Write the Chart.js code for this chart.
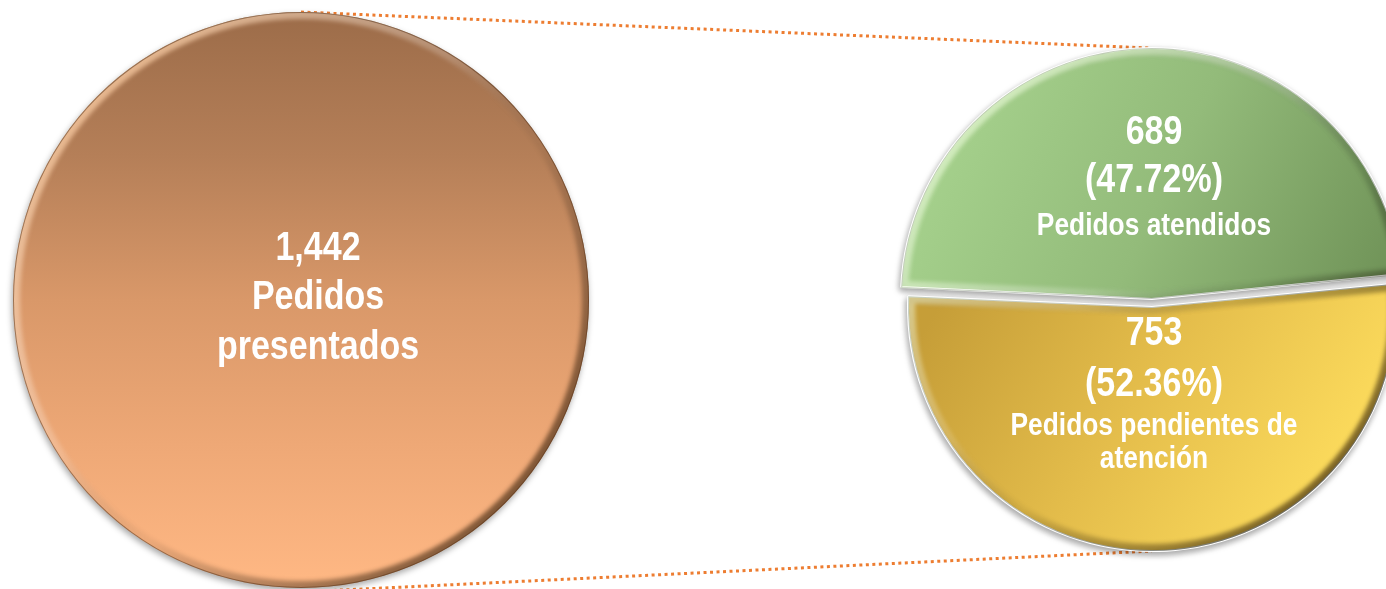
<!DOCTYPE html>
<html><head><meta charset="utf-8">
<script src="https://cdn.jsdelivr.net/npm/chart.js@4.4.1/dist/chart.umd.min.js"></script>
<style>
html,body{margin:0;padding:0;background:#fff;width:1386px;height:589px;overflow:hidden;position:relative}
#c1{position:absolute;left:0;top:0}
#c2{position:absolute;left:882px;top:37px}
</style></head><body>
<canvas id="c1" width="1386" height="589"></canvas>
<canvas id="c2" width="540" height="540"></canvas>
<script>
// ---- data ----
const totalCategory = [['Pedidos', 'presentados']];
const totalValue = [1442];
const splitCategories = [['Pedidos atendidos'], ['Pedidos pendientes de', 'atención']];
const splitValues = [689, 753];
const splitPercentLabels = ['47.72%', '52.36%'];

const FONT = '"Liberation Sans Narrow", "Liberation Sans", Arial, sans-serif';
const NARROW = 0.85;
const fmt = v => v.toLocaleString('en-US');

function arcGeom(el) {
  const p = el.getProps(['x', 'y', 'startAngle', 'endAngle', 'outerRadius'], true);
  const o = (el.options.offset || 0) / 4;
  const half = (p.startAngle + p.endAngle) / 2;
  const circ = p.endAngle - p.startAngle;
  const fix = 1 - Math.sin(Math.min(Math.PI, circ));
  return {cx: p.x, cy: p.y, x: p.x + Math.cos(half) * o, y: p.y + Math.sin(half) * o,
          r: p.outerRadius + o * fix, s: p.startAngle, e: p.endAngle,
          full: circ >= 2 * Math.PI - 1e-6, R0: p.outerRadius};
}
function tracePath(ctx, g) {
  ctx.beginPath();
  if (g.full) { ctx.arc(g.x, g.y, g.r, 0, Math.PI * 2); }
  else { ctx.moveTo(g.x, g.y); ctx.arc(g.x, g.y, g.r, g.s, g.e); ctx.closePath(); }
}

const bevelPlugin = {
  id: 'bevel',
  beforeDatasetsDraw(chart) {
    const ctx = chart.ctx;
    ctx.save();
    ctx.shadowColor = 'rgba(0,0,0,0.35)';
    ctx.shadowBlur = 6;
    ctx.shadowOffsetX = -1;
    ctx.shadowOffsetY = 3;
  },
  afterDatasetsDraw(chart, args, opts) {
    const ctx = chart.ctx;
    ctx.restore();
    chart.getDatasetMeta(0).data.forEach(el => {
      const g = arcGeom(el);
      const R = g.R0;
      ctx.save();
      tracePath(ctx, g);
      ctx.clip();
      const grad = ctx.createLinearGradient(g.cx - R * 0.75, g.cy - R * 0.75, g.cx + R * 0.75, g.cy + R * 0.75);
      grad.addColorStop(0, opts.light);
      grad.addColorStop(0.4, 'rgba(255,255,255,0.18)');
      grad.addColorStop(0.6, 'rgba(0,0,0,0.05)');
      grad.addColorStop(1, 'rgba(40,20,0,0.6)');
      ctx.filter = 'blur(2px)';
      ctx.lineWidth = 14;
      ctx.strokeStyle = grad;
      tracePath(ctx, g);
      ctx.stroke();
      ctx.filter = 'none';
      ctx.lineWidth = 2;
      ctx.strokeStyle = opts.edge;
      tracePath(ctx, g);
      ctx.stroke();
      ctx.restore();
    });
  }
};

const labelPlugin = {
  id: 'blockLabels',
  afterDraw(chart, args, opts) {
    const ctx = chart.ctx;
    const el = chart.getDatasetMeta(0).data[0];
    const cx = el.x, cy = el.y;
    ctx.save();
    ctx.fillStyle = '#ffffff';
    ctx.textAlign = 'center';
    ctx.textBaseline = 'middle';
    opts.blocks.forEach(b => {
      b.lines.forEach((t, j) => {
        ctx.save();
        ctx.font = 'bold ' + b.sizes[j] + 'px ' + FONT;
        ctx.translate(cx + b.dx, cy + b.dy[j]);
        ctx.scale(NARROW, 1);
        ctx.fillText(t, 0, 0);
        ctx.restore();
      });
    });
    ctx.restore();
  }
};

// ---- right pie ----
const C2X = 882, C2Y = 37;
function g2(chart, x0, y0, x1, y1, stops) {
  const gr = chart.ctx.createLinearGradient(x0 - C2X, y0 - C2Y, x1 - C2X, y1 - C2Y);
  stops.forEach(s => gr.addColorStop(s[0], s[1]));
  return gr;
}
const rightChart = new Chart(document.getElementById('c2'), {
  type: 'pie',
  data: {
    labels: splitCategories.map(c => c.join(' ')),
    datasets: [{
      data: splitValues,
      radius: 244,
      offset: [32, 0],
      borderWidth: 2,
      borderColor: '#ffffff',
      backgroundColor: (c) => {
        const ch = c.chart;
        if (c.dataIndex === 0) return g2(ch, 940, 90, 1390, 300, [[0, '#a7d38e'], [0.5, '#93bb7a'], [1, '#6f9257']]);
        return g2(ch, 930, 320, 1300, 545, [[0, '#c69e38'], [0.5, '#e4bd4b'], [1, '#fcdb5c']]);
      }
    }]
  },
  options: {
    responsive: false, animation: false, events: [],
    rotation: 272.5,
    layout: {padding: 0},
    plugins: {
      legend: {display: false}, tooltip: {enabled: false},
      bevel: {light: 'rgba(235,255,215,0.7)', edge: 'rgba(40,60,30,0.25)'},
      blockLabels: {
        blocks: [
          {dx: 2, dy: [-174.5, -126, -81], sizes: [40, 40, 31],
           lines: [fmt(splitValues[0]), '(' + splitPercentLabels[0] + ')', ...splitCategories[0]]},
          {dx: 2, dy: [26.5, 77.5, 119.5, 152], sizes: [40, 40, 31, 31],
           lines: [fmt(splitValues[1]), '(' + splitPercentLabels[1] + ')', ...splitCategories[1]]}
        ]
      }
    }
  },
  plugins: [bevelPlugin, labelPlugin]
});

// ---- left big circle + connector lines ----
const connectorPlugin = {
  id: 'connectors',
  beforeDatasetsDraw(chart) {
    const ctx = chart.ctx;
    const big = arcGeom(chart.getDatasetMeta(0).data[0]);
    const rm = rightChart.getDatasetMeta(0).data;
    const gTop = arcGeom(rm[0]);
    const gBot = arcGeom(rm[1]);
    const topY = gTop.y - gTop.r + C2Y, topX = gTop.x + C2X;
    const botY = gBot.y + gBot.r + C2Y, botX = gBot.x + C2X;
    ctx.save();
    ctx.strokeStyle = '#ed7d31';
    ctx.lineWidth = 3;
    ctx.setLineDash([3, 3.5]);
    ctx.beginPath();
    ctx.moveTo(big.x, big.y - big.r);
    ctx.lineTo(topX, topY);
    ctx.moveTo(big.x, big.y + big.r + 4);
    ctx.lineTo(botX, botY);
    ctx.stroke();
    ctx.restore();
  }
};

new Chart(document.getElementById('c1'), {
  type: 'pie',
  data: {
    labels: totalCategory.map(c => c.join(' ')),
    datasets: [{
      data: totalValue,
      radius: 288,
      borderWidth: 0,
      backgroundColor: (c) => {
        const gr = c.chart.ctx.createLinearGradient(0, 12, 0, 588);
        gr.addColorStop(0, '#9c6c49');
        gr.addColorStop(0.25, '#b57f58');
        gr.addColorStop(0.5, '#d99869');
        gr.addColorStop(0.75, '#eea876');
        gr.addColorStop(1, '#ffb884');
        return gr;
      }
    }]
  },
  options: {
    responsive: false, animation: false, events: [],
    layout: {padding: {left: 0, right: 784, top: 11, bottom: 0}},
    plugins: {
      legend: {display: false}, tooltip: {enabled: false},
      bevel: {light: 'rgba(255,205,160,0.75)', edge: 'rgba(90,55,30,0.55)'},
      blockLabels: {
        blocks: [
          {dx: 17, dy: [-51, -2, 48], sizes: [40, 40, 40],
           lines: [fmt(totalValue[0]), ...totalCategory[0]]}
        ]
      }
    }
  },
  plugins: [connectorPlugin, bevelPlugin, labelPlugin]
});
</script>
</body></html>
